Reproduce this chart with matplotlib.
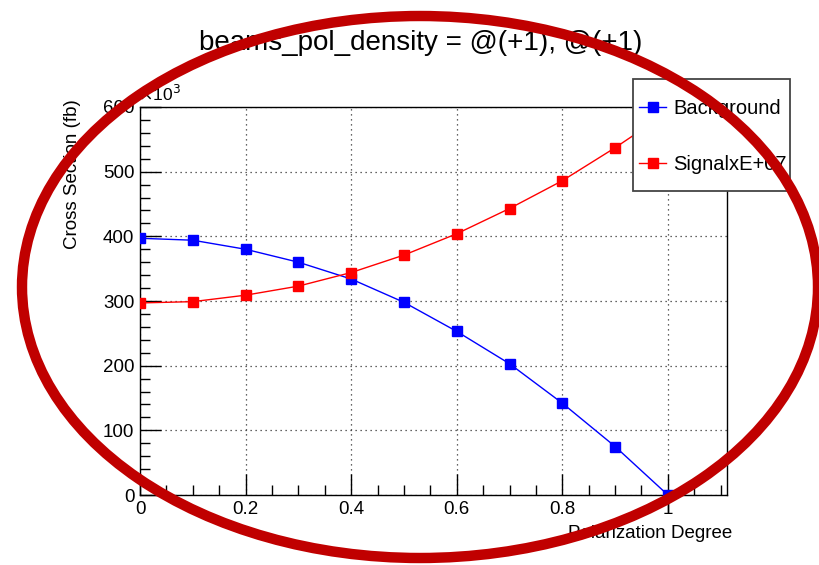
import matplotlib
matplotlib.use("Agg")
import matplotlib.pyplot as plt
from matplotlib.patches import Ellipse, Rectangle
from matplotlib.ticker import MultipleLocator, FuncFormatter

plt.rcParams['font.family'] = ['Liberation Sans', 'DejaVu Sans']

# polarization degree and cross sections (in units of 10^3 fb)
pol = [0.0, 0.1, 0.2, 0.3, 0.4, 0.5, 0.6, 0.7, 0.8, 0.9, 1.0]
background = [397, 394, 380, 360, 334, 298, 253, 203, 142, 75, 0]
signal = [297, 299, 309, 323, 344, 371, 404, 443, 486, 537, 592]

W, H = 820, 565
fig = plt.figure(figsize=(W / 100, H / 100), dpi=100)

def fx(px):
    return px / W

def fy(py):
    return 1 - py / H

ax = fig.add_axes([fx(140), fy(495), fx(727) - fx(140), fy(107) - fy(495)])

ax.plot(pol, background, color='#0000ff', lw=1, marker='s', ms=6.5,
        label='Background', zorder=3)
ax.plot(pol, signal, color='#ff0000', lw=1, marker='s', ms=6.5,
        label='SignalxE+07', zorder=3)

ax.set_xlim(0, 1.112)
ax.set_ylim(0, 600)
ax.xaxis.set_major_locator(MultipleLocator(0.2))
ax.xaxis.set_minor_locator(MultipleLocator(0.05))
ax.yaxis.set_major_locator(MultipleLocator(100))
ax.yaxis.set_minor_locator(MultipleLocator(20))
ax.xaxis.set_major_formatter(FuncFormatter(lambda v, p: '1' if abs(v - 1) < 1e-9 else ('0' if v == 0 else f'{v:g}')))
ax.grid(True, which='major', ls=(0, (1, 3)), color='#333333', lw=0.9)
ax.tick_params(which='both', direction='in', top=False, right=False,
               labelsize=13.5, width=1)
ax.tick_params(which='major', length=15, pad=4)
ax.tick_params(which='minor', length=7)
for s in ax.spines.values():
    s.set_linewidth(1)

fig.text(fx(138), fy(101), r'$\times$10$^3$', fontsize=12.5, ha='left', va='baseline')
fig.text(fx(421), fy(43), 'beams_pol_density = @(+1), @(+1)', fontsize=20,
         ha='center', va='center')
fig.text(fx(73), fy(99), 'Cross Section (fb)', fontsize=13.5, rotation=90,
         ha='center', va='top')
fig.text(fx(732), fy(534), 'Polarization Degree', fontsize=13.5,
         ha='right', va='center')

# legend box drawn by hand (ROOT style), entries via fig.legend
fig.add_artist(Rectangle((fx(633), fy(191)), fx(790) - fx(633), fy(79) - fy(191),
                         transform=fig.transFigure, fc='white', ec='#444444',
                         lw=1.3, zorder=4))
leg = fig.legend(loc='upper left', bbox_to_anchor=(fx(639), fy(99)),
                 fontsize=14.5, frameon=False, numpoints=1,
                 handlelength=1.35, handletextpad=0.35, labelspacing=1.85,
                 borderpad=0, borderaxespad=0)
leg.set_zorder(5)

overlay = fig.add_axes([0, 0, 1, 1])
overlay.set_xlim(0, W)
overlay.set_ylim(H, 0)
overlay.axis('off')
overlay.patch.set_alpha(0)
overlay.set_zorder(10)
overlay.add_patch(Ellipse((420, 287), 796, 542, fill=False, ec='#c00000',
                          lw=7.5, clip_on=False))

fig.savefig('out.png', dpi=100)
